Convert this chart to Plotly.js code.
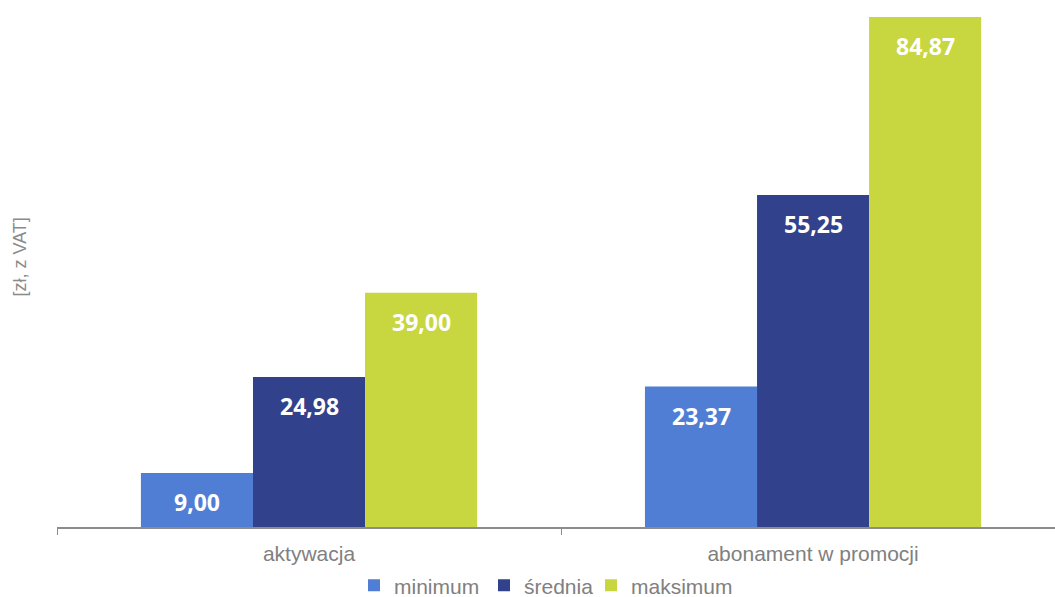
<!DOCTYPE html>
<html>
<head>
<meta charset="utf-8">
<script src="https://cdn.plot.ly/plotly-3.0.1.min.js"></script>
<style>
html,body{margin:0;padding:0;background:#fff;}
#chart{width:1055px;height:597px;}
</style>
</head>
<body>
<div id="chart"></div>
<script>
var categories = ["aktywacja", "abonament w promocji"];
var seriesNames = ["minimum", "średnia", "maksimum"];
var minimum = [9.00, 23.37];
var srednia = [24.98, 55.25];
var maksimum = [39.00, 84.87];
var seriesColors = ["#507ED5", "#32418C", "#C8D640"];
var legendWidths = [85, 62, 100];
var yAxisTitle = "[zł, z VAT]";

var seriesValues = [minimum, srednia, maksimum];
var bargap = 0.333;

function fmt(v) { return v.toFixed(2).replace(".", ","); }

var traces = seriesValues.map(function (vals, i) {
  return {
    type: "bar",
    name: seriesNames[i],
    x: categories,
    y: vals,
    marker: { color: seriesColors[i] },
    legendwidth: legendWidths[i],
    hoverinfo: "none"
  };
});

var annotations = [];
var slot = (1 - bargap) / seriesValues.length;
seriesValues.forEach(function (vals, s) {
  vals.forEach(function (v, c) {
    annotations.push({
      xref: "x", yref: "y",
      x: c + (s - (seriesValues.length - 1) / 2) * slot,
      y: v,
      yshift: -29,
      yanchor: "middle",
      xanchor: "center",
      showarrow: false,
      text: "<b>" + fmt(v) + "</b>",
      font: { family: "Open Sans", size: 23, color: "#ffffff" }
    });
  });
});

annotations.push({
  xref: "paper", yref: "paper",
  x: 0, y: 0.5, xshift: -38, yshift: 11,
  xanchor: "center", yanchor: "middle",
  textangle: -90, showarrow: false,
  text: yAxisTitle,
  font: { family: "Liberation Sans, Arial", size: 18, color: "#8a8a8a" }
});

var layout = {
  width: 1055, height: 597,
  margin: { l: 57, r: 0, t: 10, b: 70, autoexpand: false },
  paper_bgcolor: "#ffffff",
  plot_bgcolor: "#ffffff",
  barmode: "group",
  bargap: bargap,
  bargroupgap: 0,
  showlegend: true,
  legend: {
    orientation: "h",
    xref: "container", yref: "container",
    x: 354 / 1055, xanchor: "left",
    y: 0.019, yanchor: "middle",
    bgcolor: "rgba(0,0,0,0)",
    font: { family: "Liberation Sans, Arial", size: 21, color: "#808080" },
    traceorder: "normal",
    itemwidth: 30
  },
  xaxis: {
    type: "category",
    range: [-0.5, 1.48],
    showline: true, linecolor: "#8c8c8c", linewidth: 2,
    ticks: "outside", tickson: "boundaries", ticklen: 6, tickcolor: "#8c8c8c", tickwidth: 1,
    ticklabelstandoff: 7,
    tickfont: { family: "Liberation Sans, Arial", size: 21, color: "#808080" },
    showgrid: false, zeroline: false, fixedrange: true
  },
  yaxis: {
    range: [0, 86.04],
    showticklabels: false, showgrid: false, zeroline: false, showline: false,
    ticks: "", fixedrange: true
  },
  annotations: annotations
};

Plotly.newPlot("chart", traces, layout, { displayModeBar: false, staticPlot: true });
</script>
</body>
</html>
